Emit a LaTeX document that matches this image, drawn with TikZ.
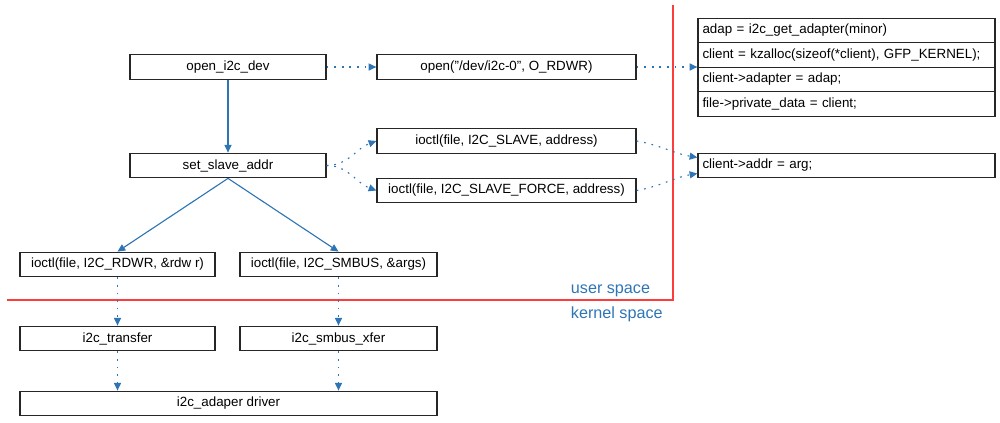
\documentclass[tikz,border=0pt]{standalone}
\usepackage{fontspec}
\setmainfont{Liberation Sans}
\usetikzlibrary{arrows.meta}

\definecolor{flowblue}{RGB}{46,117,182}
\definecolor{linered}{RGB}{255,60,60}

\begin{document}
\begin{tikzpicture}[
		box/.style={draw=black!85,line width=0.9pt,minimum height=0.6125cm,inner sep=0pt,font={\fontsize{9.5}{11}\selectfont}},
		row/.style={box,text width=7.2cm,minimum width=7.425cm,align=left,inner xsep=0.1cm},
		flow/.style={flowblue,line width=0.8pt,-{Triangle[length=5.5pt,width=5pt]}},
		call/.style={flow,dash pattern=on 1.2pt off 4.2pt},
		space/.style={flowblue,anchor=west,font={\fontsize{11.5}{13}\selectfont}}
	]
	\useasboundingbox (0,0) rectangle (25,10.55);

	% user / kernel border
	\draw[linered,line width=0.8pt] (16.825,10.425) -- (16.825,3.05) -- (0.175,3.05);
	\node[space] (user) at (14.15,3.27) {user space};
	\node[space] (kernel) at (14.15,2.7) {kernel space};

	% user space calls
	\node[box,minimum width=4.9cm] (opendev) at (5.7,8.875) {open\_i2c\_dev};
	\node[box,minimum width=4.9cm] (setaddr) at (5.7,6.4125) {set\_slave\_addr};

	\node[box,minimum width=6.475cm] (openfile) at (12.6625,8.875) {open("/dev/i2c-0", O\_RDWR)};
	\node[box,minimum width=6.475cm] (ioslave) at (12.6625,7.025) {ioctl(file, I2C\_SLAVE, address)};
	\node[box,minimum width=6.475cm] (ioforce) at (12.6625,5.7875) {ioctl(file, I2C\_SLAVE\_FORCE, address)};

	\node[box,minimum width=4.875cm] (iordwr) at (2.9375,3.9375) {ioctl(file, I2C\_RDWR, \&rdw r)};
	\node[box,minimum width=4.925cm] (iosmbus) at (8.4625,3.9375) {ioctl(file, I2C\_SMBUS, \&args)};

	% driver side
	\node[row] (adap) at (21.1625,9.7875) {adap = i2c\_get\_adapter(minor)};
	\node[row] (kzalloc) at (21.1625,9.175) {client = kzalloc(sizeof(*client), GFP\_KERNEL);};
	\node[row] (adapter) at (21.1625,8.5625) {client->adapter = adap;};
	\node[row] (privdata) at (21.1625,7.95) {file->private\_data = client;};
	\node[row] (addr) at (21.1625,6.4125) {client->addr = arg;};

	% kernel space
	\node[box,minimum width=4.875cm] (transfer) at (2.9375,2.0875) {i2c\_transfer};
	\node[box,minimum width=4.925cm] (xfer) at (8.4625,2.0875) {i2c\_smbus\_xfer};
	\node[box,minimum width=10.425cm] (driver) at (5.7125,0.4625) {i2c\_adaper driver};

	% connectors
	\draw[flow] (opendev) -- (setaddr);
	\draw[flow] (setaddr.south) -- (iordwr.north);
	\draw[flow] (setaddr.south) -- (iosmbus.north);

	\draw[call] (opendev) -- (openfile);
	\draw[call] (openfile.east) -- (openfile.east -| kzalloc.west);
	\draw[call] (setaddr.east) to[out=0,in=200] (ioslave.west);
	\draw[call] (setaddr.east) to[out=0,in=160] (ioforce.west);
	\draw[call] (ioslave.east) to[out=-10,in=170] ([yshift=0.2cm]addr.west);
	\draw[call] (ioforce.east) to[out=10,in=190] ([yshift=-0.2cm]addr.west);

	\draw[call] (iordwr) -- (transfer);
	\draw[call] (iosmbus) -- (xfer);
	\draw[call] (transfer.south) -- (transfer.south |- driver.north);
	\draw[call] (xfer.south) -- (xfer.south |- driver.north);

\end{tikzpicture}
\end{document}
